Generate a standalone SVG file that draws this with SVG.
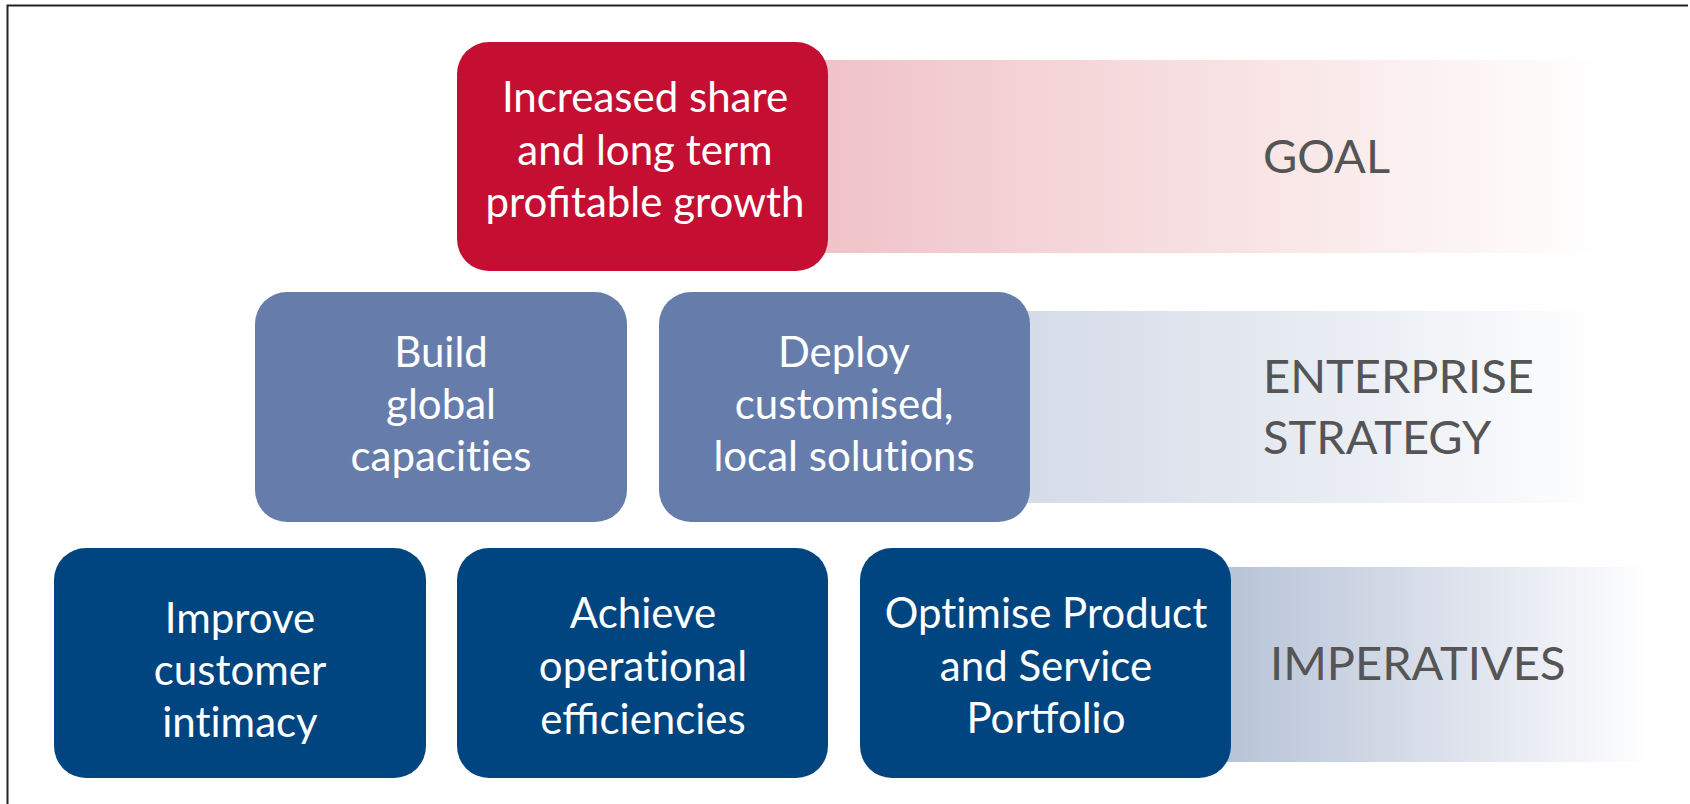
<svg xmlns="http://www.w3.org/2000/svg" width="1690" height="804" viewBox="0 0 1690 804">
  <defs>
    <linearGradient id="bandGoal" x1="0" y1="0" x2="1" y2="0">
      <stop offset="0" stop-color="#efc0c6"/>
      <stop offset="0.6" stop-color="#f9e6e6"/>
      <stop offset="1" stop-color="#ffffff"/>
    </linearGradient>
    <linearGradient id="bandStrategy" x1="0" y1="0" x2="1" y2="0">
      <stop offset="0" stop-color="#d3dae7"/>
      <stop offset="0.6" stop-color="#ebeef4"/>
      <stop offset="1" stop-color="#ffffff"/>
    </linearGradient>
    <linearGradient id="bandImperatives" x1="0" y1="0" x2="1" y2="0">
      <stop offset="0" stop-color="#b3c0d4"/>
      <stop offset="0.65" stop-color="#e3e7f0"/>
      <stop offset="1" stop-color="#ffffff"/>
    </linearGradient>
  </defs>
  <style>
    .box text { font-family: "Lato", "Liberation Sans", sans-serif; font-size: 42px; fill: #ffffff; text-anchor: middle; }
    .box text.plain { font-variant-ligatures: no-common-ligatures; }
    .goal rect.card { fill: #c40f33; }
    .strategy rect.card { fill: #667dab; }
    .imperative rect.card { fill: #00457f; }
    .tier { font-family: "Lato", "Liberation Sans", sans-serif; font-size: 47px; fill: #555555; }
  </style>

  <rect x="0" y="0" width="1690" height="804" fill="#ffffff"/>
  <!-- frame edges -->
  <path d="M7.5 804 V5.5 H1688" fill="none" stroke="#222222" stroke-width="2"/>

  <!-- tier bands -->
  <g id="bands">
    <rect x="790" y="60" width="816" height="193" fill="url(#bandGoal)"/>
    <rect x="1000" y="311" width="606" height="192" fill="url(#bandStrategy)"/>
    <rect x="1200" y="567" width="451" height="195" fill="url(#bandImperatives)"/>
  </g>

  <g id="connectors"></g>

  <g id="goal-growth" class="box goal">
    <rect class="card" x="457" y="42" width="371" height="229" rx="32"/>
    <text x="645" y="112">Increased share</text>
    <text x="645" y="165">and long term</text>
    <text x="645" y="217">profitable growth</text>
  </g>

  <g id="strategy-global" class="box strategy">
    <rect class="card" x="255" y="292" width="372" height="230" rx="32"/>
    <text x="441" y="367">Build</text>
    <text x="441" y="419">global</text>
    <text class="plain" x="441" y="471">capacities</text>
  </g>

  <g id="strategy-local" class="box strategy">
    <rect class="card" x="659" y="292" width="371" height="230" rx="32"/>
    <text x="844" y="367">Deploy</text>
    <text x="844" y="419">customised,</text>
    <text class="plain" x="844" y="471">local solutions</text>
  </g>

  <g id="imperative-intimacy" class="box imperative">
    <rect class="card" x="54" y="548" width="372" height="230" rx="32"/>
    <text x="240" y="633">Improve</text>
    <text x="240" y="685">customer</text>
    <text class="plain" x="240" y="737">intimacy</text>
  </g>

  <g id="imperative-efficiency" class="box imperative">
    <rect class="card" x="457" y="548" width="371" height="230" rx="32"/>
    <text x="643" y="628">Achieve</text>
    <text class="plain" x="643" y="681">operational</text>
    <text x="643" y="734">efficiencies</text>
  </g>

  <g id="imperative-portfolio" class="box imperative">
    <rect class="card" x="860" y="548" width="371" height="230" rx="32"/>
    <text class="plain" x="1046" y="628">Optimise Product</text>
    <text x="1046" y="681">and Service</text>
    <text x="1046" y="733">Portfolio</text>
  </g>

  <g id="tier-labels">
    <text class="tier" x="1263" y="173">GOAL</text>
    <text class="tier" x="1263" y="393">ENTERPRISE</text>
    <text class="tier" x="1263" y="454">STRATEGY</text>
    <text class="tier" x="1270" y="680">IMPERATIVES</text>
  </g>
</svg>
